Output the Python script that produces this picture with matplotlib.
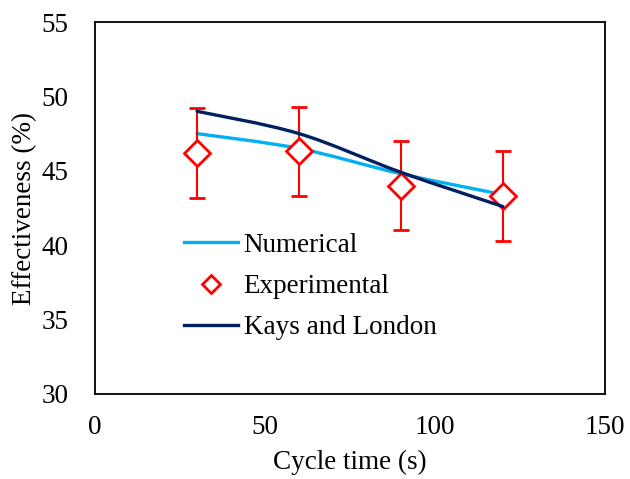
import numpy as np
import matplotlib.pyplot as plt
from matplotlib.path import Path
from matplotlib.patches import PathPatch
from matplotlib.lines import Line2D

plt.rcParams['font.family'] = ['Liberation Serif', 'DejaVu Serif']

cycle_time = [30, 60, 90, 120]
numerical = [47.5, 46.5, 44.8, 43.4]
experimental = [46.2, 46.3, 44.0, 43.3]
exp_error = [3.0, 3.0, 3.0, 3.0]
kays_london = [49.0, 47.5, 44.9, 42.6]


def smooth_path(x, y):
    # Excel-like smoothed line: cubic Bezier segments through the points
    x = np.asarray(x, float)
    y = np.asarray(y, float)
    verts = [(x[0], y[0])]
    codes = [Path.MOVETO]
    n = len(x)
    for i in range(n - 1):
        x0, y0 = (x[i - 1], y[i - 1]) if i > 0 else (x[i], y[i])
        x3, y3 = (x[i + 2], y[i + 2]) if i + 2 < n else (x[i + 1], y[i + 1])
        c1 = (x[i] + (x[i + 1] - x0) / 6, y[i] + (y[i + 1] - y0) / 6)
        c2 = (x[i + 1] - (x3 - x[i]) / 6, y[i + 1] - (y3 - y[i]) / 6)
        verts += [c1, c2, (x[i + 1], y[i + 1])]
        codes += [Path.CURVE4] * 3
    return Path(verts, codes)


fig = plt.figure(figsize=(6.3, 4.79), dpi=100)
ax = fig.add_axes([0.151, 0.1775, 0.809, 0.7765])

blue = '#00B0F0'
navy = '#002060'
red = '#FF0000'
fs = 19.5

ax.add_patch(PathPatch(smooth_path(cycle_time, numerical), facecolor='none',
                       edgecolor=blue, lw=2.4, capstyle='round'))
ax.errorbar(cycle_time, experimental, yerr=exp_error, fmt='D', ms=13,
            mfc='white', mec=red, mew=2, ecolor=red, elinewidth=1.5,
            capsize=6, capthick=1.5, zorder=3)
ax.add_patch(PathPatch(smooth_path(cycle_time, kays_london), facecolor='none',
                       edgecolor=navy, lw=2.4, capstyle='round', zorder=4))

ax.set_xlim(0, 150)
ax.set_ylim(30, 55)
ax.set_xticks([0, 50, 100, 150])
ax.set_yticks([30, 35, 40, 45, 50, 55])
ax.tick_params(axis='both', length=0, labelsize=fs)
ax.tick_params(axis='y', pad=19)
ax.tick_params(axis='x', pad=15)
for s in ax.spines.values():
    s.set_linewidth(1.3)
    s.set_color('black')

ax.set_xlabel('Cycle time (s)', fontsize=fs, labelpad=7)
ax.set_ylabel('Effectiveness (%)', fontsize=fs, labelpad=3)

handles = [
    Line2D([], [], color=blue, lw=2.4),
    Line2D([], [], ls='none', marker='D', ms=9, mfc='white', mec=red, mew=2),
    Line2D([], [], color=navy, lw=2.4),
]
ax.legend(handles, ['Numerical', 'Experimental', 'Kays and London'],
          loc='upper left', bbox_to_anchor=(0.153, 0.462), frameon=False,
          fontsize=fs, handlelength=2.0, handletextpad=0.2, labelspacing=0.6,
          borderaxespad=0)

fig.savefig('out.png', dpi=100)
